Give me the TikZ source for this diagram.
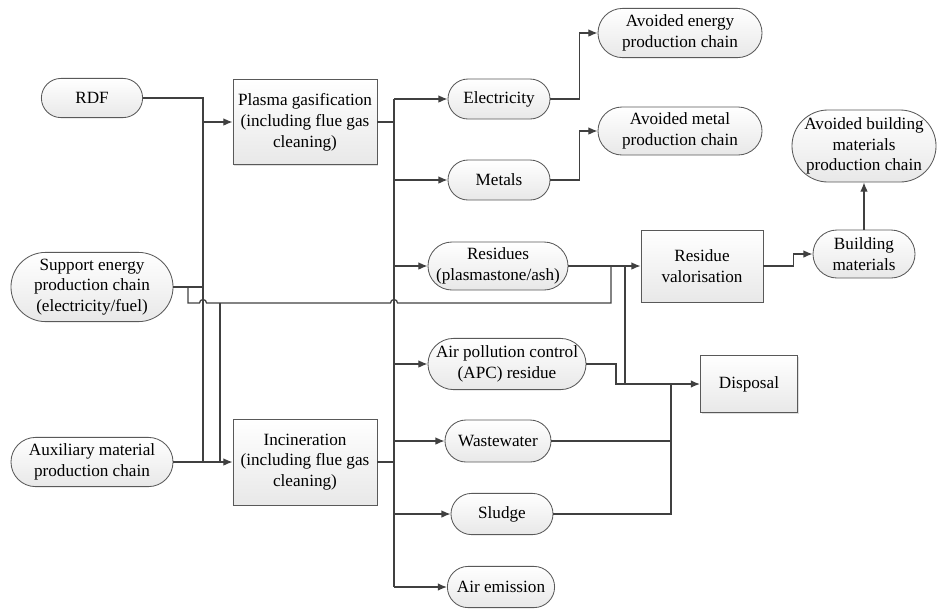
\documentclass[tikz,border=0pt]{standalone}
\usepackage{fontspec}
\setmainfont{LiberationSerif}[Extension=.ttf, UprightFont=*-Regular, BoldFont=*-Bold, ItalicFont=*-Italic, BoldItalicFont=*-BoldItalic]
\usetikzlibrary{arrows.meta,shadows}

\tikzset{
    term/.style 2 args={rectangle, draw=black!65, line width=0.6pt,
        top color=white, bottom color=black!9, align=center, inner sep=0pt,
        minimum width=#1cm, minimum height=#2cm, rounded corners=#2*0.5cm},
    proc/.style 2 args={rectangle, draw=black!65, line width=0.6pt,
        top color=white, bottom color=black!9, align=center, inner sep=0pt,
        minimum width=#1cm, minimum height=#2cm,
        drop shadow={shadow xshift=0.8pt, shadow yshift=-0.8pt, opacity=0.25}},
    flow/.style={draw=black!75, line width=0.9pt},
    arr/.style={flow, -{Latex[length=2.3mm,width=1.9mm]}},
}

\begin{document}
\begin{tikzpicture}[x=0.025cm, y=-0.025cm, font=\fontsize{12.2}{14.8}\selectfont]
    \useasboundingbox (0,0) rectangle (938,608);
    % inputs
    \node[term={2.53}{0.98}] (rdf) at (92,98) {RDF};
    \node[term={4.05}{1.73}] (supp) at (92,287) {Support energy\\production chain\\(electricity/fuel)};
    \node[term={4.05}{1.23}] (aux) at (92,462) {Auxiliary material\\production chain};
    % processes
    \node[proc={3.6}{2.13}] (plasma) at (305,122) {Plasma gasification\\(including flue gas\\cleaning)};
    \node[proc={3.6}{2.15}] (incin) at (305,462) {Incineration\\(including flue gas\\cleaning)};
    % outputs
    \node[term={2.55}{1.0}] (elec) at (499,99) {Electricity};
    \node[term={2.55}{1.0}] (metal) at (499,180) {Metals};
    \node[term={3.5}{1.2}] (resid) at (498,266) {Residues\\(plasmastone/ash)};
    \node[term={3.95}{1.28}] (apc) at (507,364) {Air pollution control\\(APC) residue};
    \node[term={2.65}{1.05}] (waste) at (498,441) {Wastewater};
    \node[term={2.55}{1.03}] (sludge) at (502,514) {Sludge};
    \node[term={2.68}{1.03}] (airem) at (501,587) {Air emission};
    % avoided chains and end of life
    \node[term={4.1}{1.23}] (avener) at (680,33) {Avoided energy\\production chain};
    \node[term={4.1}{1.2}] (avmetal) at (680,131) {Avoided metal\\production chain};
    \node[proc={3.05}{1.8}] (resval) at (702,266) {Residue\\valorisation};
    \node[term={2.55}{1.2}] (buildm) at (864,254) {Building\\materials};
    \node[term={3.6}{1.8}] (avbuild) at (864,146) {Avoided building\\materials\\production chain};
    \node[proc={2.43}{1.43}] (disp) at (749,384) {Disposal};
    % junctions
    \coordinate (busW) at (203,462);
    \coordinate (busE) at (394,462);
    \coordinate (sB) at (188,287);
    \coordinate (sI) at (220,303);
    \coordinate (jR) at (611,266);
    \coordinate (jA) at (625,266);
    \coordinate (jP) at (616,384);
    \coordinate (jD) at (671,384);
    % input side
    \draw[flow] (rdf.east) -| (busW);
    \draw[flow] (supp.east) -- (supp.east -| busW);
    \draw[arr] (busW |- plasma.west) -- (plasma.west);
    \draw[arr] (aux.east) -- (incin.west);
    \draw[flow] (sB) |- (199.5,303) arc (180:360:3.5) -- (390.5,303) arc (180:360:3.5) -| (jR);
    \draw[flow] (sI) -- (sI |- incin.west);
    % output side
    \draw[flow] (plasma.east) -- (plasma.east -| busE);
    \draw[flow] (incin.east) -- (busE);
    \draw[flow] (busE |- elec.west) -- (busE |- airem.west);
    \foreach \n in {elec,metal,resid,apc,waste,sludge,airem}
        \draw[arr] (busE |- \n.west) -- (\n.west);
    \draw[arr] (elec.east) -- ++(29,0) |- (avener.west);
    \draw[arr] (metal.east) -- ++(29,0) |- (avmetal.west);
    \draw[arr] (resid.east) -- (resval.west);
    \draw[flow] (jA) -- (jA |- disp.west);
    \draw[arr] (apc.east) -| (jP) -- (disp.west);
    \draw[flow] (waste.east) -| (jD);
    \draw[flow] (sludge.east) -| (jD);
    \draw[arr] (resval.east) -- ++(30,0) |- (buildm.west);
    \draw[arr] (buildm.north) -- (avbuild.south);
\end{tikzpicture}
\end{document}
